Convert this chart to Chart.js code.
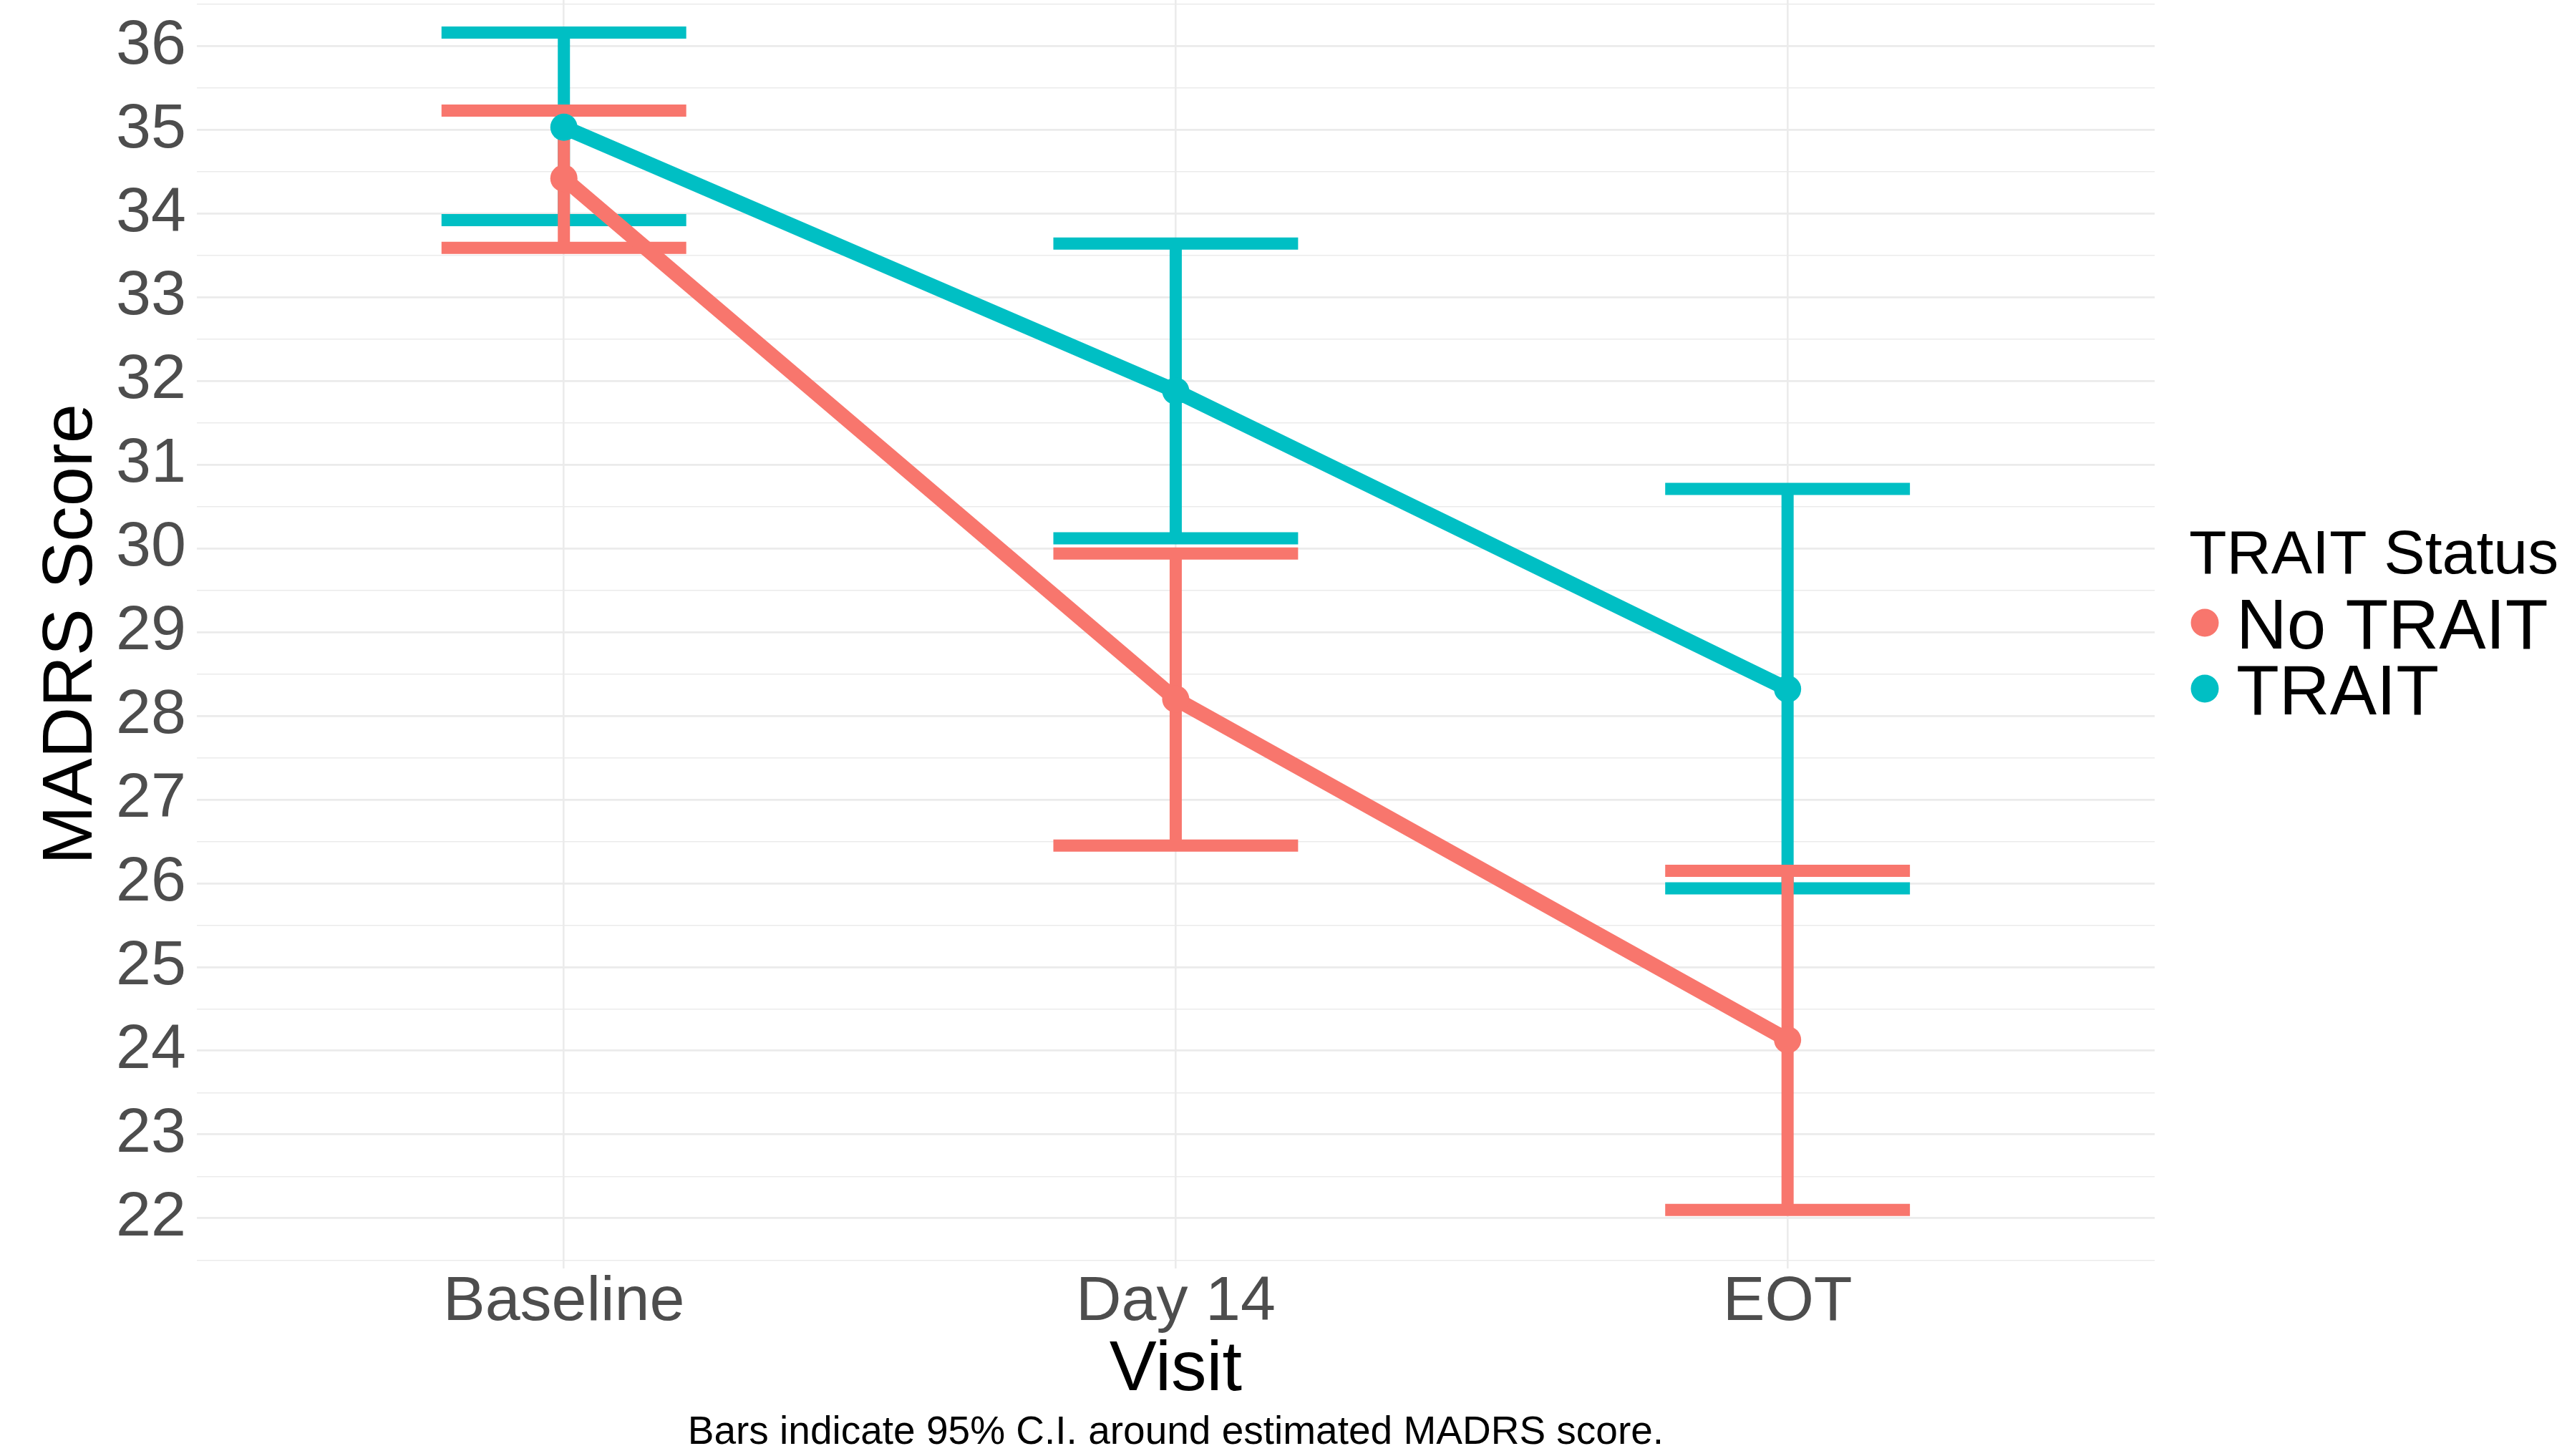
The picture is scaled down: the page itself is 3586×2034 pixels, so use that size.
<!DOCTYPE html>
<html>
<head>
<meta charset="utf-8">
<script src="https://cdn.jsdelivr.net/npm/chart.js@4.4.1/dist/chart.umd.min.js"></script>
<style>
  html, body { margin: 0; padding: 0; background: #fff; }
</style>
</head>
<body>
<canvas id="graficaMadrs" width="3586" height="2034"></canvas>
<script>
// --- datos ---
const visits = ['Baseline', 'Day 14', 'EOT'];
const groups = ['No TRAIT', 'TRAIT'];
const groupColors = ['#F8766D', '#00BFC4'];

const noTraitMean = [34.42, 28.20, 24.13];
const noTraitLower = [33.59, 26.45, 22.10];
const noTraitUpper = [35.23, 29.94, 26.15];

const traitMean = [35.03, 31.88, 28.32];
const traitLower = [33.92, 30.12, 25.94];
const traitUpper = [36.16, 33.64, 30.71];

const yTickLabels = [22, 23, 24, 25, 26, 27, 28, 29, 30, 31, 32, 33, 34, 35, 36];
const caption = 'Bars indicate 95% C.I. around estimated MADRS score.';

// major + minor grid values
const yGrid = [];
yTickLabels.forEach(v => { yGrid.push(v - 0.5); yGrid.push(v); });
yGrid.push(yTickLabels[yTickLabels.length - 1] + 0.5);

const FONT = '"Liberation Sans", Arial, sans-serif';
Chart.defaults.font.family = FONT;

// --- error bars (dibujadas antes de las líneas) ---
const errorBars = {
    id: 'errorBars',
    beforeDatasetsDraw(chart) {
        const { ctx, scales: { x, y } } = chart;
        ctx.save();
        ctx.lineCap = 'butt';
        ctx.lineWidth = 17;
        // TRAIT first so No TRAIT ends on top
        for (let d = chart.data.datasets.length - 1; d >= 0; d--) {
            const ds = chart.data.datasets[d];
            ctx.strokeStyle = ds.borderColor;
            ds.errLower.forEach((lo, i) => {
                const hi = ds.errUpper[i];
                const px = x.getPixelForValue(i);
                const left = x.getPixelForValue(i - 0.2);
                const right = x.getPixelForValue(i + 0.2);
                const pLo = y.getPixelForValue(lo);
                const pHi = y.getPixelForValue(hi);
                ctx.beginPath();
                ctx.moveTo(px, pHi); ctx.lineTo(px, pLo);
                ctx.moveTo(left, pHi); ctx.lineTo(right, pHi);
                ctx.moveTo(left, pLo); ctx.lineTo(right, pLo);
                ctx.stroke();
            });
        }
        ctx.restore();
    }
};

// --- leyenda a la derecha ---
const legendaTrait = {
    id: 'legendaTrait',
    afterDraw(chart) {
        const ctx = chart.ctx;
        ctx.save();
        ctx.textBaseline = 'alphabetic';
        ctx.textAlign = 'left';
        ctx.fillStyle = '#000';
        ctx.font = '86px ' + FONT;
        ctx.fillText('TRAIT Status', 3058, 801);
        chart.data.datasets.forEach((ds, i) => {
            ctx.beginPath();
            ctx.arc(3080, 870 + i * 92, 19.5, 0, Math.PI * 2);
            ctx.fillStyle = ds.borderColor;
            ctx.fill();
            ctx.fillStyle = '#000';
            ctx.font = '98px ' + FONT;
            ctx.fillText(ds.label, 3124, 906 + i * 91.5);
        });
        ctx.restore();
    }
};

const series = [
    { mean: noTraitMean, lower: noTraitLower, upper: noTraitUpper },
    { mean: traitMean, lower: traitLower, upper: traitUpper }
];

const ctxMadrs = document.getElementById('graficaMadrs').getContext('2d');
new Chart(ctxMadrs, {
    type: 'line',
    data: {
        datasets: series.map((s, g) => ({
            label: groups[g],
            data: s.mean.map((v, i) => ({ x: i, y: v })),
            errLower: s.lower,
            errUpper: s.upper,
            borderColor: groupColors[g],
            backgroundColor: groupColors[g],
            pointBackgroundColor: groupColors[g],
            borderWidth: 21,
            pointRadius: 19,
            pointBorderWidth: 0,
            borderJoinStyle: 'round',
            tension: 0,
            fill: false
        }))
    },
    options: {
        responsive: false,
        devicePixelRatio: 1,
        animation: false,
        layout: { autoPadding: false, padding: { left: 45, top: 0, right: 576, bottom: 0 } },
        plugins: {
            legend: { display: false },
            tooltip: { enabled: false },
            subtitle: {
                display: true,
                text: caption,
                position: 'bottom',
                fullSize: false,
                color: '#000',
                font: { size: 55, lineHeight: 1, weight: 'normal' },
                padding: { top: 10, bottom: 5 }
            }
        },
        scales: {
            x: {
                type: 'linear',
                min: -0.6,
                max: 2.6,
                afterBuildTicks: scale => { scale.ticks = visits.map((v, i) => ({ value: i })); },
                afterFit: scale => { scale.paddingLeft = 0; scale.paddingRight = 0; },
                ticks: {
                    callback: v => visits[v],
                    color: '#4D4D4D',
                    font: { size: 88, lineHeight: 1 },
                    padding: 4,
                    maxRotation: 0,
                    autoSkip: false
                },
                grid: { color: '#EBEBEB', lineWidth: 2.6, drawTicks: false },
                border: { display: false },
                title: {
                    display: true,
                    text: 'Visit',
                    color: '#000',
                    font: { size: 99, lineHeight: 1 },
                    padding: { top: -3, bottom: 0 }
                }
            },
            y: {
                min: 21.40,
                max: 36.55,
                afterBuildTicks: scale => { scale.ticks = yGrid.map(v => ({ value: v })); },
                afterFit: scale => { scale.paddingTop = 0; scale.paddingBottom = 0; },
                ticks: {
                    callback: v => Number.isInteger(v) ? String(v) : '',
                    color: '#4D4D4D',
                    font: { size: 88, lineHeight: 1 },
                    padding: 15,
                    autoSkip: false
                },
                grid: {
                    color: '#EBEBEB',
                    lineWidth: c => (c.tick && Number.isInteger(c.tick.value)) ? 2.8 : 1.6,
                    drawTicks: false
                },
                border: { display: false },
                title: {
                    display: true,
                    text: 'MADRS Score',
                    color: '#000',
                    font: { size: 99, lineHeight: 1 },
                    padding: { top: 6, bottom: -3 }
                }
            }
        }
    },
    plugins: [errorBars, legendaTrait]
});
</script>
</body>
</html>
